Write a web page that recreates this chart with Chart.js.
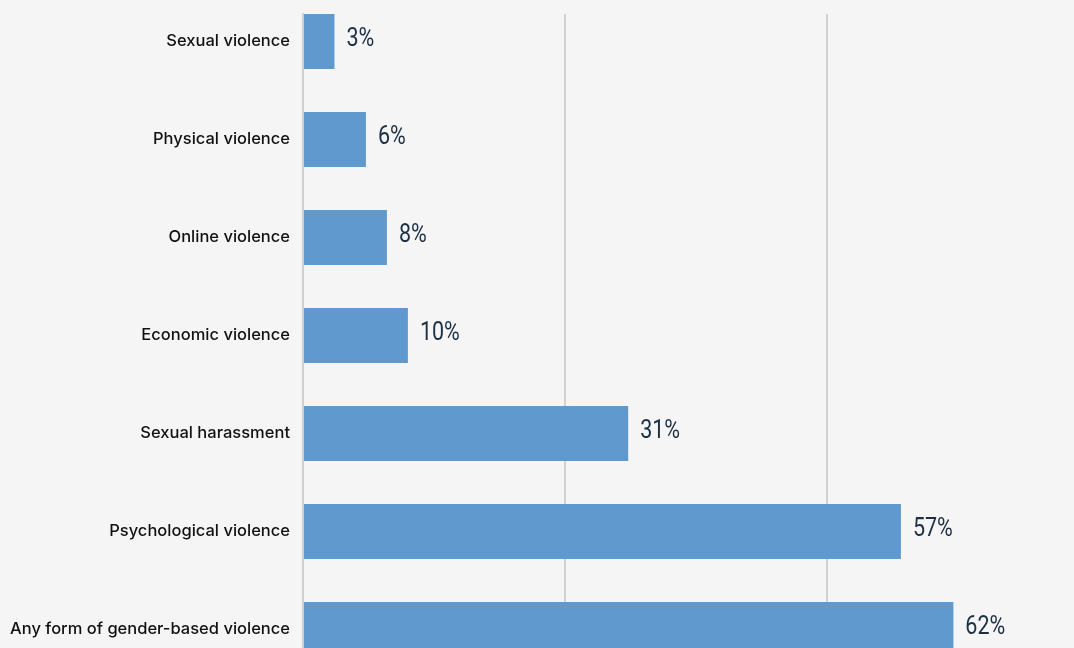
<!DOCTYPE html>
<html>
<head>
<meta charset="utf-8">
<script src="https://cdn.jsdelivr.net/npm/chart.js@4.4.0/dist/chart.umd.min.js"></script>
<style>
html,body{margin:0;padding:0;background:#f5f5f5;overflow:hidden;}
#wrap{position:relative;width:1074px;height:648px;}
</style>
</head>
<body>
<div id="wrap"><canvas id="c" width="1074" height="648"></canvas></div>
<script>
const categories = ["Sexual violence","Physical violence","Online violence","Economic violence","Sexual harassment","Psychological violence","Any form of gender-based violence"];
const values = [3, 6, 8, 10, 31, 57, 62];
const gridTicks = [0, 25, 50];

const labelPlugin = {
  id: 'valueLabels',
  afterDatasetsDraw(chart) {
    const ctx = chart.ctx;
    const meta = chart.getDatasetMeta(0);
    ctx.save();
    ctx.fillStyle = '#1c3045';
    ctx.font = '400 25px Roboto';
    ctx.textBaseline = 'middle';
    ctx.textAlign = 'left';
    meta.data.forEach((bar, i) => {
      ctx.save();
      ctx.translate(bar.x + 12, bar.y - 2);
      ctx.scale(0.86, 1);
      ctx.fillText(values[i] + '%', 0, 0);
      ctx.restore();
    });
    ctx.restore();
  }
};

new Chart(document.getElementById('c'), {
  type: 'bar',
  data: {
    datasets: [{
      data: values.map((v, i) => ({x: v, y: i})),
      backgroundColor: '#6099cd',
      borderWidth: 0,
      barPercentage: 1,
      categoryPercentage: 0.561
    }]
  },
  options: {
    indexAxis: 'y',
    responsive: false,
    animation: false,
    layout: {padding: {top: 14, left: 0, right: 0, bottom: 0}},
    plugins: {legend: {display: false}, tooltip: {enabled: false}},
    scales: {
      x: {
        type: 'linear',
        min: 0,
        max: 73.5,
        offset: false,
        afterBuildTicks(scale) { scale.ticks = gridTicks.map(v => ({value: v})); },
        afterFit(scale) { scale.height = 0; scale.paddingLeft = 0; scale.paddingRight = 0; },
        ticks: {display: false},
        grid: {color: '#d2d2d2', lineWidth: 2, drawTicks: false, offset: false},
        border: {display: false}
      },
      y: {
        type: 'linear',
        reverse: true,
        offset: false,
        min: -0.2806,
        max: 6.189,
        afterBuildTicks(scale) { scale.ticks = categories.map((_, i) => ({value: i})); },
        afterFit(scale) { scale.width = 303; scale.paddingTop = 0; scale.paddingBottom = 0; },
        ticks: {
          padding: 13,
          color: '#111111',
          font: {family: 'Inter', size: 16.5, weight: '500'},
          callback: (v) => categories[v]
        },
        grid: {display: false, drawTicks: false, offset: false},
        border: {display: true, color: '#cfcfcf', width: 2}
      }
    }
  },
  plugins: [labelPlugin]
});
</script>
</body>
</html>
